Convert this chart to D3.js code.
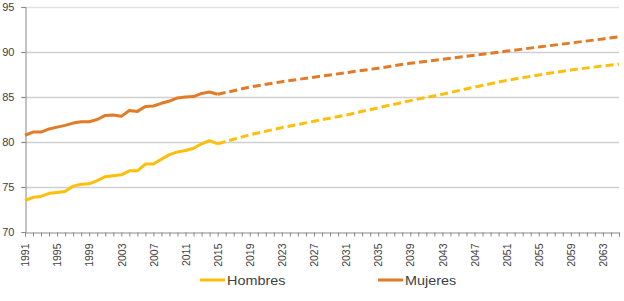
<!DOCTYPE html>
<html>
<head>
<meta charset="utf-8">
<script src="https://cdn.jsdelivr.net/npm/d3@7"></script>
<style>
  body { margin: 0; background: #fff; }
  svg { display: block; font-family: "Liberation Sans", Arial, sans-serif; }
</style>
</head>
<body>
<div id="graf"></div>
<script>
// Datos
const anios = d3.range(1991, 2066)
const aniosObs = d3.range(1991, 2016)
const hombresObs = [73.5, 73.85, 73.95, 74.3, 74.4, 74.5, 75.1, 75.3, 75.35, 75.7, 76.15, 76.25, 76.35, 76.8, 76.8, 77.55, 77.55, 78.1, 78.6, 78.9, 79.05, 79.3, 79.8, 80.15, 79.8]
const mujeresObs = [80.75, 81.1, 81.1, 81.45, 81.65, 81.85, 82.1, 82.25, 82.25, 82.5, 82.95, 83.0, 82.85, 83.5, 83.4, 83.95, 84.0, 84.3, 84.55, 84.9, 85.0, 85.05, 85.4, 85.55, 85.3]
const aniosProy = [2015, 2019, 2023, 2027, 2031, 2035, 2039, 2043, 2047, 2051, 2055, 2059, 2063, 2065]
const hombresProy = [79.8, 80.8, 81.6, 82.3, 83.0, 83.8, 84.6, 85.3, 86.1, 86.85, 87.45, 88.0, 88.45, 88.65]
const mujeresProy = [85.3, 86.1, 86.7, 87.2, 87.7, 88.2, 88.75, 89.2, 89.65, 90.1, 90.55, 91.0, 91.45, 91.7]
const yTicks = [70, 75, 80, 85, 90, 95]
const series = ["Hombres", "Mujeres"]
const colores = { Hombres: "#fcbf0a", Mujeres: "#e27a26" }

const margins = { left: 25, top: 7, right: 5, bottom: 69 }
const anchoTotal = 624
const altoTotal = 301
const ancho = anchoTotal - margins.left - margins.right
const alto = altoTotal - margins.top - margins.bottom

const svg = d3.select("#graf")
  .append("svg")
  .attr("width", anchoTotal)
  .attr("height", altoTotal)

const g = svg.append("g")
  .attr("transform", `translate(${margins.left}, ${margins.top})`)

// Escaladores
const x = d3.scalePoint().domain(anios).range([0, ancho])
const y = d3.scaleLinear().domain([70, 95]).range([alto, 0])

// Rejilla
g.append("g")
  .selectAll("line")
  .data(yTicks.slice(1))
  .join("line")
  .attr("x1", -4)
  .attr("x2", ancho)
  .attr("y1", (d) => Math.round(y(d)) + 0.5)
  .attr("y2", (d) => Math.round(y(d)) + 0.5)
  .attr("stroke", (d) => (d === 95 ? "#e2e2e2" : "#cfcfcf"))
  .attr("stroke-width", 1.3)

// Eje Y
const yAxisGroup = g.append("g")
  .attr("transform", "translate(0.5, 0)")
  .call(d3.axisLeft(y).tickValues(yTicks).tickSize(4).tickPadding(7))
yAxisGroup.select(".domain").attr("stroke", "#888")
yAxisGroup.selectAll(".tick line").attr("stroke", "#888")
yAxisGroup.selectAll("text")
  .attr("fill", "#404040")
  .attr("font-size", 11)
  .attr("font-family", "Liberation Sans, Arial, sans-serif")

// Eje X
const xAxisGroup = g.append("g")
  .attr("transform", `translate(0, ${Math.round(alto) + 0.5})`)
  .call(d3.axisBottom(x).tickSizeOuter(0).tickSize(4).tickFormat((d) => ((d - 1991) % 4 === 0 ? d : "")))
xAxisGroup.select(".domain").attr("stroke", "#888")
xAxisGroup.selectAll(".tick line").attr("stroke", "#888")
xAxisGroup.selectAll("text")
  .attr("fill", "#404040")
  .attr("font-size", 10.5)
  .attr("font-family", "Liberation Sans, Arial, sans-serif")
  .attr("text-anchor", "end")
  .attr("dy", "0.35em")
  .attr("transform", "translate(0, 11) rotate(-90)")
  .attr("x", 0)
  .attr("y", 0)

// Lineas
const linea = d3.line().x((d) => x(d[0])).y((d) => y(d[1]))
const datosObs = {
  Hombres: d3.zip(aniosObs, hombresObs),
  Mujeres: d3.zip(aniosObs, mujeresObs),
}
const datosProy = {
  Hombres: d3.zip(aniosProy, hombresProy),
  Mujeres: d3.zip(aniosProy, mujeresProy),
}

series.forEach((s) => {
  g.append("path")
    .attr("d", linea(datosProy[s]))
    .attr("fill", "none")
    .attr("stroke", colores[s])
    .attr("stroke-width", 3)
    .attr("stroke-dasharray", "8,4")
  g.append("path")
    .attr("d", linea(datosObs[s]))
    .attr("fill", "none")
    .attr("stroke", colores[s])
    .attr("stroke-width", 3)
    .attr("stroke-linejoin", "round")
})

// Leyenda
const leyendaX = { Hombres: 200, Mujeres: 378 }
const leyenda = svg.append("g")
series.forEach((s) => {
  leyenda.append("line")
    .attr("x1", leyendaX[s])
    .attr("x2", leyendaX[s] + 25)
    .attr("y1", 280)
    .attr("y2", 280)
    .attr("stroke", colores[s])
    .attr("stroke-width", 3)
  leyenda.append("text")
    .attr("transform", `translate(${leyendaX[s] + 27}, 284.5) scale(1.2, 1)`)
    .attr("fill", "#404040")
    .attr("font-size", 12)
    .text(s)
})
</script>
</body>
</html>
